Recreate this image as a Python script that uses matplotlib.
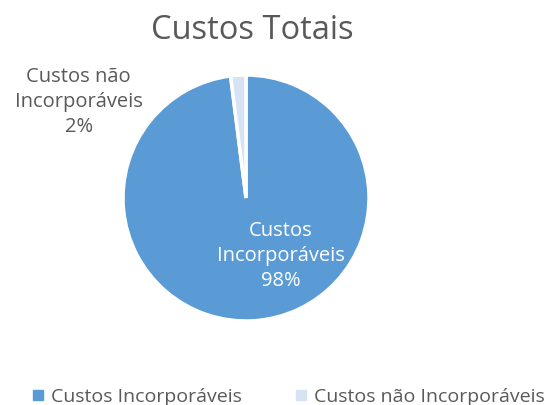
import matplotlib.pyplot as plt
from matplotlib.lines import Line2D

categories = ["Custos Incorporáveis", "Custos não Incorporáveis"]
values = [98, 2]
slice_labels = ["Custos\nIncorporáveis\n98%", "Custos não\nIncorporáveis\n2%"]
colors = ["#5B9BD5", "#D5E3F5"]
text_gray = "#595959"

plt.rcParams['font.family'] = ['Open Sans', 'DejaVu Sans']

fig = plt.figure(figsize=(5.53, 4.05), dpi=100)
ax = fig.add_axes([123 / 553, 84 / 405, 246 / 553, 246 / 405])

wedges, _ = ax.pie(values, colors=colors, startangle=90, counterclock=False,
                   wedgeprops=dict(edgecolor="white", linewidth=2.5))
ax.set_aspect("equal")
ax.set_xlim(-1, 1)
ax.set_ylim(-1, 1)

ax.text(0.28, -0.47, slice_labels[0], ha="center", va="center", color="white",
        fontsize=14.5, linespacing=1.35)
ax.text(-1.36, 0.78, slice_labels[1], ha="center", va="center", color=text_gray,
        fontsize=14.5, linespacing=1.35, clip_on=False)

fig.text(0.456, 0.925, "Custos Totais", ha="center", va="center", fontsize=23.5,
         color=text_gray)

handles = [Line2D([], [], marker="s", linestyle="", markersize=7, color=c)
           for c in colors]
fig.legend(handles, categories, loc="lower center", bbox_to_anchor=(0.52, -0.045),
           ncol=2, frameon=False, fontsize=14, labelcolor=text_gray,
           handletextpad=0.3, columnspacing=2.6, handlelength=0.8)

fig.savefig("out.png", dpi=100)
